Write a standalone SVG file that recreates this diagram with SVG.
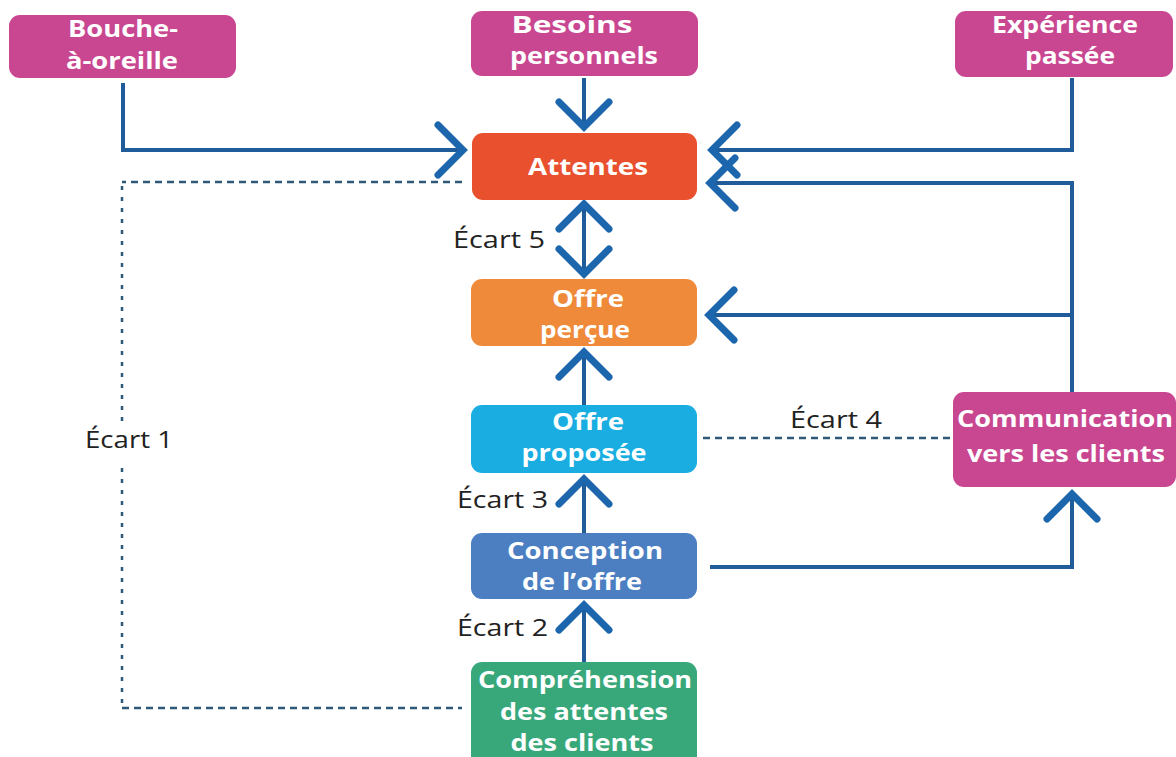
<svg xmlns="http://www.w3.org/2000/svg" width="1176" height="757" viewBox="0 0 1176 757">
<defs>
<style>
.box{stroke:none}
.mag{fill:#c94791}
.t{font-family:"Open Sans","Noto Sans","Liberation Sans",sans-serif;font-weight:700;font-size:24px;fill:#fff;text-anchor:middle}
.lbl{font-family:"Open Sans","Noto Sans","Liberation Sans",sans-serif;font-size:23px;fill:#222}
.ln{fill:none;stroke:#1f5c99;stroke-width:4}
.dash{fill:none;stroke:#2d5877;stroke-width:2.5;stroke-dasharray:7 5}
.dv{fill:none;stroke:#2d5877;stroke-width:2.5;stroke-dasharray:4 7}
</style>
<marker id="chev" markerUnits="userSpaceOnUse" markerWidth="60" markerHeight="60" viewBox="-40 -30 50 60" refX="0" refY="0" orient="auto-start-reverse" overflow="visible">
<path d="M-25,-25 L0,0 L-25,25" fill="none" stroke="#1c66ae" stroke-width="7" stroke-linecap="round" stroke-linejoin="miter"/>
</marker>
</defs>
<rect width="1176" height="757" fill="#fff"/>

<g id="connectors">
<path class="ln" d="M123,83 V150 H463" marker-end="url(#chev)"/>
<path class="ln" d="M584,78 V127" marker-end="url(#chev)"/>
<path class="ln" d="M1072,78 V150 H712" marker-end="url(#chev)"/>
<path class="ln" d="M1072,392 V183 H710" marker-end="url(#chev)"/>
<path class="ln" d="M1072,315 H709" marker-end="url(#chev)"/>
<path class="ln" d="M584,204 V274" marker-start="url(#chev)" marker-end="url(#chev)"/>
<path class="ln" d="M584,405 V352" marker-end="url(#chev)"/>
<path class="ln" d="M584,533 V479" marker-end="url(#chev)"/>
<path class="ln" d="M584,662 V605" marker-end="url(#chev)"/>
<path class="ln" d="M710,567 H1072 V494" marker-end="url(#chev)"/>
<path class="dash" d="M462,182 H122"/>
<path class="dv" d="M122,186 V422"/>
<path class="dv" d="M122,468 V704"/>
<path class="dash" d="M122,708 H462"/>
<path class="dash" d="M703,438 H953"/>
<text class="lbl" x="85" y="448" textLength="88" lengthAdjust="spacingAndGlyphs">Écart 1</text>
<text class="lbl" x="790" y="428" textLength="92" lengthAdjust="spacingAndGlyphs">Écart 4</text>
<text class="lbl" x="453" y="248" textLength="92" lengthAdjust="spacingAndGlyphs">Écart 5</text>
<text class="lbl" x="457" y="508" textLength="91" lengthAdjust="spacingAndGlyphs">Écart 3</text>
<text class="lbl" x="457" y="636" textLength="91" lengthAdjust="spacingAndGlyphs">Écart 2</text>
</g>

<g id="bouche">
<rect class="box mag" x="9" y="15" width="227" height="63" rx="11"/>
<text class="t" x="123" y="37" textLength="110" lengthAdjust="spacingAndGlyphs">Bouche-</text>
<text class="t" x="122" y="69" textLength="112" lengthAdjust="spacingAndGlyphs">à-oreille</text>
</g>
<g id="besoins">
<rect class="box mag" x="471" y="11" width="227" height="65" rx="11"/>
<text class="t" x="572" y="33" textLength="121" lengthAdjust="spacingAndGlyphs">Besoins</text>
<text class="t" x="584" y="64" textLength="148" lengthAdjust="spacingAndGlyphs">personnels</text>
</g>
<g id="experience">
<rect class="box mag" x="955" y="11" width="218" height="66" rx="11"/>
<text class="t" x="1065" y="33" textLength="146" lengthAdjust="spacingAndGlyphs">Expérience</text>
<text class="t" x="1070" y="64" textLength="90" lengthAdjust="spacingAndGlyphs">passée</text>
</g>
<g id="attentes">
<rect class="box" fill="#e8502e" x="472" y="133" width="225" height="67" rx="11"/>
<text class="t" x="588" y="175" textLength="120" lengthAdjust="spacingAndGlyphs">Attentes</text>
</g>
<g id="offre-percue">
<rect class="box" fill="#ef8a3b" x="471" y="279" width="226" height="67" rx="11"/>
<text class="t" x="588" y="307" textLength="72" lengthAdjust="spacingAndGlyphs">Offre</text>
<text class="t" x="585" y="338" textLength="90" lengthAdjust="spacingAndGlyphs">perçue</text>
</g>
<g id="offre-proposee">
<rect class="box" fill="#19ade1" x="471" y="405" width="226" height="68" rx="11"/>
<text class="t" x="588" y="430" textLength="72" lengthAdjust="spacingAndGlyphs">Offre</text>
<text class="t" x="584" y="461" textLength="125" lengthAdjust="spacingAndGlyphs">proposée</text>
</g>
<g id="conception">
<rect class="box" fill="#4b7fc2" x="471" y="533" width="226" height="66" rx="11"/>
<text class="t" x="585" y="559" textLength="156" lengthAdjust="spacingAndGlyphs">Conception</text>
<text class="t" x="582" y="590" textLength="120" lengthAdjust="spacingAndGlyphs">de l’offre</text>
</g>
<g id="comprehension">
<rect class="box" fill="#38a87b" x="471" y="662" width="226" height="110" rx="11"/>
<text class="t" x="585" y="688" textLength="214" lengthAdjust="spacingAndGlyphs">Compréhension</text>
<text class="t" x="584" y="720" textLength="168" lengthAdjust="spacingAndGlyphs">des attentes</text>
<text class="t" x="582" y="751" textLength="143" lengthAdjust="spacingAndGlyphs">des clients</text>
</g>
<g id="communication">
<rect class="box mag" x="953" y="392" width="223" height="95" rx="11"/>
<text class="t" x="1065" y="427" textLength="216" lengthAdjust="spacingAndGlyphs">Communication</text>
<text class="t" x="1066" y="462" textLength="198" lengthAdjust="spacingAndGlyphs">vers les clients</text>
</g>
</svg>
